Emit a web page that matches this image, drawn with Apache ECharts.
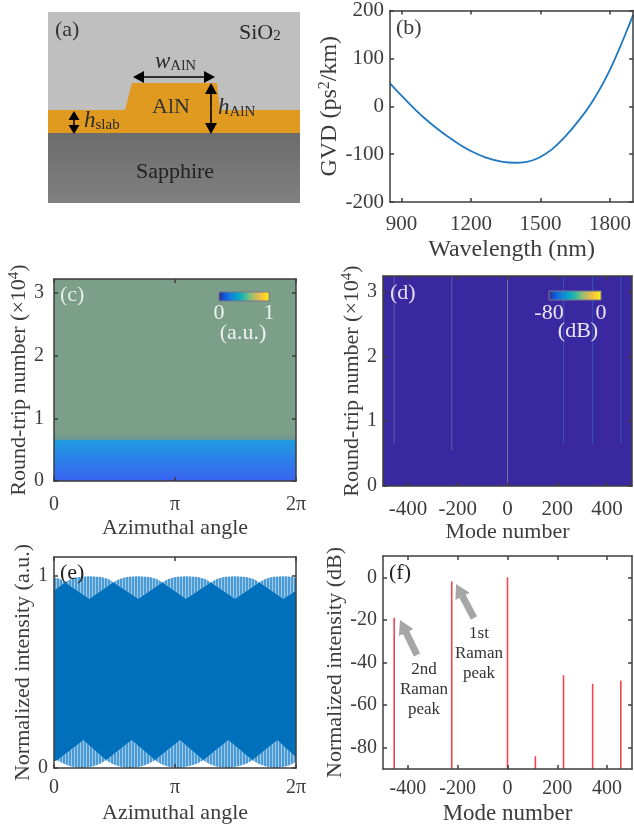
<!DOCTYPE html>
<html><head><meta charset="utf-8">
<style>html,body{margin:0;padding:0;background:#fff;overflow:hidden}#c{width:634px;height:827px;filter:blur(.45px)}</style>
<script src="https://cdn.jsdelivr.net/npm/echarts@6/dist/echarts.min.js"></script>
</head><body><div id="c"></div>
<script>
// ---- data ----
const gvdWavelength = [850,926,983,1054,1126,1197,1269,1330,1390,1440,1491,1549,1607,1663,1720,1778,1834,1891,1900];
const gvdValues = [48,9,-18,-47,-72,-93,-108,-115.5,-118,-116,-108,-90,-63,-31,7,55,113,180,191];
const cBandEdges = [0,0.655,0.75,3.22];
const dModes = [-455,-224,0,225,342,455];
const dStartRound = [0.65,0.55,0,0.65,0.65,0.65];
const dRoundMax = 3.24;
const fModes = [-455,-224,0,112,225,342,455];
const fValues = [-19,-2,0,-84,-46,-50,-48.5];
const eTopOuterX = [0,.05,.091,.14,.2,.29,.39,.45,.49,.54,.6,.69,.79,.85,.895,.945,1,1.09,1.19,1.25,1.295,1.345,1.4,1.49,1.59,1.65,1.697,1.745,1.8,1.895,1.97,2];
const eTopOuterY = [.995,.985,.968,.985,.996,1,.996,.985,.968,.985,.996,1,.996,.985,.968,.985,.996,1,.996,.985,.968,.985,.996,1,.996,.985,.968,.985,.996,1,.997,.99];
const eTopInnerX = [0,.091,.292,.49,.697,.895,1.091,1.295,1.496,1.697,1.895,2];
const eTopInnerY = [.925,.968,.882,.968,.882,.968,.882,.968,.882,.968,.882,.925];
const eBotInnerX = [0,.028,.242,.43,.642,.835,1.041,1.234,1.441,1.639,1.846,2];
const eBotInnerY = [.035,.04,.145,.04,.145,.04,.145,.04,.145,.04,.145,.055];
const eBotOuterX = [0,.028,.08,.14,.23,.32,.38,.43,.48,.54,.63,.72,.78,.835,.88,.94,1.03,1.12,1.18,1.234,1.28,1.34,1.44,1.53,1.59,1.639,1.69,1.75,1.84,1.93,2];
const eBotOuterY = [.035,.04,.022,.008,0,.008,.022,.04,.022,.008,0,.008,.022,.04,.022,.008,0,.01,.022,.04,.022,.008,0,.01,.022,.04,.022,.008,0,.01,.03];

// ---- styles ----
const FONT = '"Liberation Serif","Times New Roman",serif';
const INK = '#3c3c3c', NAME = 22;
const parula = ['#352a87','#0f5cdd','#1481d6','#06a4ca','#2eb7a4','#87bf77','#d1bb59','#fec832','#f9fb0e'];
const dLineColors = ['#5f5aa8','#615c9f','#76769a','#3a52b4','#3a52b4','#3a52b4'];
const grids = [
  {left:390,top:10,width:245,height:192},
  {left:54,top:279,width:242,height:202},
  {left:383,top:276,width:249,height:210},
  {left:54,top:557,width:242,height:211},
  {left:383,top:556,width:249,height:213}
];
function piFmt(v){return v===0?'0':v===1?'π':'2π';}
function xAx(g,min,max,vals,name,gap,fmt,m,fs,ns){
  const b={gridIndex:g,type:'value',min,max,z:6,splitLine:{show:false},
    axisLine:{onZero:false,lineStyle:{color:INK,width:1.5}},
    axisTick:{inside:true,length:4,customValues:vals,lineStyle:{color:INK,width:1.5}}};
  return [Object.assign({},b,{position:'bottom',name,nameLocation:'middle',nameGap:gap,
      nameTextStyle:{fontFamily:FONT,fontSize:ns||NAME,color:INK},
      axisLabel:{customValues:vals,fontFamily:FONT,fontSize:fs,color:INK,margin:m,formatter:fmt||(v=>String(v))}}),
    Object.assign({},b,{position:'top',axisLabel:{show:false}})];
}
function rich(ns){return {a:{fontFamily:FONT,fontSize:ns,color:INK},s:{fontFamily:FONT,fontSize:Math.round(ns*.68),color:INK,verticalAlign:'top',lineHeight:26}};}
function yAx(g,min,max,vals,name,gap,m,fs,ns){
  const b={gridIndex:g,type:'value',min,max,z:6,splitLine:{show:false},
    axisLine:{onZero:false,lineStyle:{color:INK,width:1.5}},
    axisTick:{inside:true,length:4,customValues:vals,lineStyle:{color:INK,width:1.5}}};
  return [Object.assign({},b,{position:'left',name,nameLocation:'middle',nameRotate:90,nameGap:gap,
      nameTextStyle:{fontFamily:FONT,fontSize:ns||NAME,color:INK,rich:rich(ns||NAME)},
      axisLabel:{customValues:vals,fontFamily:FONT,fontSize:fs,color:INK,margin:m}}),
    Object.assign({},b,{position:'right',axisLabel:{show:false}})];
}
const xAxis=[].concat(
  xAx(0,850,1900,[900,1200,1500,1800],'Wavelength (nm)',36,null,12,21,24),
  xAx(1,0,2,[0,1,2],'Azimuthal angle',36,piFmt,14,20),
  xAx(2,-500,500,[-400,-200,0,200,400],'Mode number',34,null,13,21),
  xAx(3,0,2,[0,1,2],'Azimuthal angle',34,piFmt,10,20),
  xAx(4,-500,500,[-400,-200,0,200,400],'Mode number',33,null,10,20,23)
);
const yAxis=[].concat(
  yAx(0,-200,200,[-200,-100,0,100,200],'{a|GVD (ps}{s|2}{a|/km)}',47,6,21,24),
  yAx(1,0,3.22,[0,1,2,3],'{a|Round-trip number (×10}{s|4}{a|)}',17,10,20),
  yAx(2,0,3.24,[0,1,2,3],'{a|Round-trip number (×10}{s|4}{a|)}',16,6,20),
  yAx(3,0,1.1,[0,1],'Normalized intensity (a.u.)',17,6,20),
  yAx(4,-90,10,[-80,-60,-40,-20,0],'Normalized intensity (dB)',33,6,20)
);
function pairs(xs,ys){return xs.map((x,i)=>[x,ys[i]]);}
function band(api,up,low){
  return up.concat(low.slice().reverse()).map(p=>api.coord(p));
}
function stripe(){
  const c=document.createElement('canvas');c.width=3;c.height=4;
  const t=c.getContext('2d');t.fillStyle='#4a9ad6';t.fillRect(0,0,3,4);t.fillStyle='#a0cbeb';t.fillRect(2,0,1,4);
  return c;
}
const pattern={image:stripe(),repeat:'repeat'};
const DARK='#0070bd';
const topOuter=pairs(eTopOuterX,eTopOuterY),topInner=pairs(eTopInnerX,eTopInnerY),
      botInner=pairs(eBotInnerX,eBotInnerY),botOuter=pairs(eBotOuterX,eBotOuterY);
const cFills=[
  {type:'linear',x:0,y:1,x2:0,y2:0,colorStops:[{offset:0,color:'#3a62f2'},{offset:1,color:'#1f9ce0'}]},
  {type:'linear',x:0,y:1,x2:0,y2:0,colorStops:[{offset:0,color:'#6c9499'},{offset:1,color:'#7b9f88'}]},
  '#7b9f88'
];
const series=[
  {type:'line',xAxisIndex:0,yAxisIndex:0,data:pairs(gvdWavelength,gvdValues),smooth:0.5,showSymbol:false,
    lineStyle:{color:'#1f78c1',width:1.8},silent:true},
  {type:'custom',xAxisIndex:2,yAxisIndex:2,clip:true,silent:true,data:cBandEdges.slice(0,3).map((e,i)=>[e,cBandEdges[i+1]]),encode:{x:[],y:[0,1]},
    renderItem(p,api){
      const a=api.coord([0,api.value(1)]),b=api.coord([2,api.value(0)]);
      const y0=Math.round(a[1]),y1=Math.round(b[1]);
      return {type:'rect',shape:{x:a[0],y:y0,width:b[0]-a[0],height:y1-y0},style:{fill:cFills[p.dataIndex]}};
    }},
  {type:'custom',xAxisIndex:4,yAxisIndex:4,clip:true,silent:true,data:[[0,0]],encode:{x:0,y:1},
    renderItem(p,api){
      const a=api.coord([-500,dRoundMax]),b=api.coord([500,0]);
      return {type:'rect',shape:{x:a[0],y:a[1],width:b[0]-a[0],height:b[1]-a[1]},style:{fill:'#3a28a0'}};
    }},
  {type:'custom',xAxisIndex:4,yAxisIndex:4,clip:true,silent:true,z:3,data:pairs(dModes,dStartRound),encode:{x:0,y:1},
    renderItem(p,api){
      const a=api.coord([api.value(0),api.value(1)]),b=api.coord([api.value(0),dRoundMax]);
      return {type:'line',shape:{x1:a[0],y1:a[1],x2:b[0],y2:b[1]},style:{stroke:dLineColors[p.dataIndex],lineWidth:1}};
    }},
  {type:'custom',xAxisIndex:6,yAxisIndex:6,clip:true,silent:true,data:[[0,0]],encode:{x:0,y:1},
    renderItem(p,api){
      return {type:'group',children:[
        {type:'polygon',shape:{points:band(api,topOuter,topInner)},style:{fill:pattern}},
        {type:'polygon',shape:{points:band(api,botInner,botOuter)},style:{fill:pattern}},
        {type:'polygon',shape:{points:band(api,topInner,botInner)},style:{fill:DARK}}
      ]};
    }},
  {type:'custom',xAxisIndex:8,yAxisIndex:8,clip:true,silent:true,data:pairs(fModes,fValues),encode:{x:0,y:1},
    renderItem(p,api){
      const a=api.coord([api.value(0),api.value(1)]),b=api.coord([api.value(0),-90]);
      return {type:'line',shape:{x1:a[0],y1:a[1],x2:b[0],y2:b[1]},style:{stroke:'#f0444e',lineWidth:1.6}};
    }}
];
// ---- annotation graphics ----
const G=[];
function T(x,y,text,o){G.push({type:'text',x,y,z:50,style:Object.assign({text,fontFamily:FONT,fontSize:22,fill:INK,align:'left',verticalAlign:'middle'},o||{})});}
function arrowPoly(tx,ty,bx,by,sw,hw,hl,fill){
  const dx=bx-tx,dy=by-ty,l=Math.hypot(dx,dy),ux=dx/l,uy=dy/l,nx=-uy,ny=ux;
  const hx=tx+ux*hl,hy=ty+uy*hl;
  G.push({type:'polygon',z:50,shape:{points:[[tx,ty],[hx+nx*hw,hy+ny*hw],[hx+nx*sw,hy+ny*sw],[bx+nx*sw,by+ny*sw],[bx-nx*sw,by-ny*sw],[hx-nx*sw,hy-ny*sw],[hx-nx*hw,hy-ny*hw]]},style:{fill}});
}
function dbl(x1,y1,x2,y2,hw,hl){
  arrowPoly(x1,y1,(x1+x2)/2,(y1+y2)/2,0.8,hw,hl,'#000');
  arrowPoly(x2,y2,(x1+x2)/2,(y1+y2)/2,0.8,hw,hl,'#000');
}
// panel (a)
G.push({type:'rect',z:40,shape:{x:48,y:12,width:252,height:191},style:{fill:'#bfbfbf'}});
G.push({type:'rect',z:41,shape:{x:48,y:133,width:252,height:70},style:{fill:{type:'linear',x:0,y:0,x2:0,y2:1,colorStops:[{offset:0,color:'#6c6c6c'},{offset:1,color:'#808080'}]}}});
G.push({type:'polygon',z:42,shape:{points:[[48,110],[125,110],[132,83],[217,83],[220,110],[300,110],[300,133],[48,133]]},style:{fill:'#e09a20'}});
dbl(133,77,215,77,6,11);
dbl(211,83,211,134,6,11);
dbl(74,111,74,134,5.5,9);
const subRich={n:{fontFamily:FONT,fontSize:22,fill:'#2a2a2a'},i:{fontFamily:FONT,fontSize:23,fontStyle:'italic',fill:'#2a2a2a'},s:{fontFamily:FONT,fontSize:15,fill:'#2a2a2a',verticalAlign:'bottom'}};
T(55,30,'(a)',{fill:'#333'});
T(239,33,'{n|SiO}{s|2}',{rich:subRich});
T(155,62,'{i|w}{s|AlN}',{rich:subRich});
T(171,107,'AlN',{align:'center',fill:'#333'});
T(218,108,'{i|h}{s|AlN}',{rich:subRich});
T(84,121,'{i|h}{s|slab}',{rich:subRich});
T(175,172,'Sapphire',{align:'center',fill:'#222'});
// panel labels
T(396,28,'(b)'); T(60,295,'(c)',{fill:'#e8eee8'}); T(390,293,'(d)',{fill:'#e4e2f2'}); T(60,573,'(e)',{fill:'#222'}); T(389,573,'(f)',{fill:'#222'});
// colourbars
function bar(x,y,w,h){
  G.push({type:'rect',z:50,shape:{x,y,width:w,height:h},style:{stroke:'#77778a',lineWidth:1,
    fill:{type:'linear',x:0,y:0,x2:1,y2:0,colorStops:parula.map((c,i)=>({offset:i/(parula.length-1),color:c}))}}});
}
bar(219,292,50,9);
T(219,313,'0',{align:'center',fill:'#eef2ee'}); T(269,313,'1',{align:'center',fill:'#eef2ee'}); T(243,333,'(a.u.)',{align:'center',fill:'#eef2ee'});
bar(549,291,52,9);
T(549,313,'-80',{align:'center',fill:'#e8e6f6'}); T(601,313,'0',{align:'center',fill:'#e8e6f6'}); T(578,331,'(dB)',{align:'center',fill:'#e8e6f6'});
// panel (f) annotations
arrowPoly(456,584,474,618,3.5,8,14,'#a6a6a6');
arrowPoly(400,620,417,655,3.5,8,14,'#a6a6a6');
const ann={align:'center',fontSize:17,fill:'#333'};
T(424,670,'2nd',ann);T(424,690,'Raman',ann);T(424,710,'peak',ann);
T(479,634,'1st',ann);T(479,654,'Raman',ann);T(479,674,'peak',ann);

const chart=echarts.init(document.getElementById('c'),null,{renderer:'canvas'});
chart.setOption({animation:false,backgroundColor:'#fff',grid:grids,xAxis,yAxis,series,graphic:{elements:G}});
</script></body></html>
